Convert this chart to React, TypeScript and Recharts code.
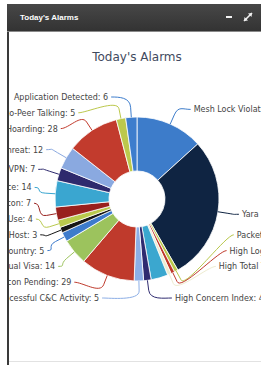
import React from 'react';
import { PieChart, Pie, Cell } from 'recharts';

const names = [
  'Mesh Lock Violation',
  'Yara Rule Match',
  'Packet Flood',
  'High Login Failures',
  'High Total Traffic',
  'High Risk Host',
  'High Concern Index',
  'Unsuccessful C&C Activity',
  'Beacon Pending',
  'Unusual Visa',
  'Traffic to Risky Country',
  'Rogue Host',
  'Tor Exit Use',
  'Malware Beacon 7',
  'Brute Force 14',
  'Rogue VPN',
  'Malware Threat',
  'Data Hoarding',
  'Peer-to-Peer Talking',
  'Application Detected',
];
const values = [36, 77, 2, 2, 2, 9, 4, 5, 29, 14, 5, 3, 4, 7, 14, 7, 12, 28, 5, 6];
const colors = [
  '#3d7cca', '#0f2442', '#b8c74a', '#c0392b', '#eeecd0', '#3ba7cf', '#2f2b70',
  '#8caee6', '#bf3a2c', '#9cc35d', '#3d7bcc', '#151515', '#b9c94d', '#98201d',
  '#3aa6d0', '#2e2a6d', '#8aa9e0', '#c23b2d', '#bcc84c', '#3d7dcd',
];
const hiddenLabels = ['High Risk Host'];

const labelText = (i: number) => {
  const n = names[i];
  if (n.endsWith(' 7') || n.endsWith(' 14')) {
    return n.replace(/ (\d+)$/, ': $1');
  }
  return `${n}: ${values[i]}`;
};

const W = 252;
const H = 331;
const CX = 128;
const CY = 167;
const OUTER = 82;
const INNER = 28;
const LABEL_DIST = 16;
const LABEL_R = 106;
const SPACING = 15.8;
const TOP = 65;
const BOTTOM = 266;

type Item = { i: number; mid: number; left: boolean; target: number };

function layoutLabels() {
  const total = values.reduce((a, b) => a + b, 0);
  let cum = 0;
  const items: Item[] = values.map((v, i) => {
    const mid = ((cum + v / 2) / total) * 360;
    cum += v;
    return {
      i,
      mid,
      left: mid >= 178,
      target: CY - (OUTER + LABEL_DIST) * Math.cos((mid * Math.PI) / 180),
    };
  });
  const ys: Record<number, { y: number; left: boolean }> = {};
  [true, false].forEach((side) => {
    const arr = items.filter((d) => d.left === side).sort((a, b) => a.target - b.target);
    let clusters = arr.map((d) => ({ items: [d], top: d.target }));
    const fit = (c: { items: Item[]; top: number }) => {
      const n = c.items.length;
      let t = c.items.reduce((s, d, j) => s + d.target - j * SPACING, 0) / n;
      if (t + (n - 1) * SPACING > BOTTOM) t = BOTTOM - (n - 1) * SPACING;
      if (t < TOP) t = TOP;
      c.top = t;
    };
    clusters.forEach(fit);
    let merged = true;
    while (merged) {
      merged = false;
      for (let k = 0; k < clusters.length - 1; k++) {
        const a = clusters[k];
        const b = clusters[k + 1];
        if (a.top + a.items.length * SPACING > b.top) {
          const c = { items: [...a.items, ...b.items], top: 0 };
          fit(c);
          clusters = [...clusters.slice(0, k), c, ...clusters.slice(k + 2)];
          merged = true;
          break;
        }
      }
    }
    clusters.forEach((c) =>
      c.items.forEach((d, j) => {
        ys[d.i] = { y: c.top + j * SPACING, left: side };
      })
    );
  });
  return ys;
}

const labelLayout = layoutLabels();

const RAD = Math.PI / 180;

const renderLabel = (props: any) => {
  const { cx, cy, midAngle, outerRadius, index } = props;
  if (hiddenLabels.includes(names[index])) return <g />;
  const lay = labelLayout[index];
  const y = lay.y;
  const left = lay.left;
  const dy = y - cy;
  const dx = Math.sqrt(Math.max(0, LABEL_R * LABEL_R - dy * dy));
  const ax = left ? cx - dx : cx + dx;
  const sx = left ? ax + 3 : ax - 3;
  const cos = Math.cos(-midAngle * RAD);
  const sin = Math.sin(-midAngle * RAD);
  const ex = cx + outerRadius * cos;
  const ey = cy + outerRadius * sin;
  const bx = cx + (outerRadius + 10) * cos;
  const by = cy + (outerRadius + 10) * sin;
  const c1x = left ? sx + 8 : sx - 8;
  const c2x = 2 * bx - ex;
  const c2y = 2 * by - ey;
  const d = `M${sx},${y} C${c1x},${y} ${c2x},${c2y} ${bx},${by} L${ex},${ey}`;
  return (
    <g>
      <path d={d} fill="none" stroke={colors[index]} strokeWidth={1} />
      <text
        x={ax}
        y={y + 3}
        textAnchor={left ? 'end' : 'start'}
        fontSize={8}
        fontFamily="DejaVu Sans, sans-serif"
        fill="#444"
      >
        {labelText(index)}
      </text>
    </g>
  );
};

const data = values.map((v, i) => ({ name: names[i], value: v }));

export default function App() {
  return (
    <div
      style={{
        position: 'absolute',
        left: 0,
        top: 0,
        width: 261,
        height: 365,
        background: '#fff',
        overflow: 'hidden',
        fontFamily: 'DejaVu Sans, sans-serif',
      }}
    >
      <div
        style={{
          position: 'absolute',
          left: 7,
          top: 4,
          width: 2,
          height: 361,
          background: '#3a3a3a',
        }}
      />
      <div
        style={{
          position: 'absolute',
          left: 7,
          top: 4,
          width: 254,
          height: 27,
          background: 'linear-gradient(#474747, #333333)',
          borderBottom: '1px solid #8a8a8a',
        }}
      >
        <div
          style={{
            position: 'absolute',
            left: 13,
            top: 9,
            color: '#fff',
            fontSize: 8,
            fontWeight: 'bold',
            fontFamily: 'Liberation Sans, sans-serif',
            lineHeight: '10px',
            whiteSpace: 'nowrap',
          }}
        >
          Today's Alarms
        </div>
        <div
          style={{
            position: 'absolute',
            left: 219,
            top: 12,
            width: 6,
            height: 2,
            background: '#f2f2f2',
          }}
        />
        <svg
          style={{ position: 'absolute', left: 234, top: 6, width: 14, height: 14 }}
          viewBox="0 0 14 14"
        >
          <line x1="3" y1="11" x2="11" y2="3" stroke="#f2f2f2" strokeWidth="1.6" />
          <polygon points="11,3 7,3.5 10.5,7" fill="#f2f2f2" />
          <polygon points="3,11 7,10.5 3.5,7" fill="#f2f2f2" />
        </svg>
      </div>
      <div
        style={{
          position: 'absolute',
          left: 9,
          top: 361,
          width: 252,
          height: 1,
          background: '#e2e2e2',
        }}
      />
      <div
        style={{
          position: 'absolute',
          left: 9,
          top: 50,
          width: 256,
          textAlign: 'center',
          fontSize: 12,
          lineHeight: '14px',
          color: '#3f4a5e',
          fontFamily: 'DejaVu Sans, sans-serif',
        }}
      >
        Today's Alarms
      </div>
      <div
        style={{
          position: 'absolute',
          left: 9,
          top: 32,
          width: W,
          height: H,
          overflow: 'hidden',
        }}
      >
        <PieChart width={W} height={H} margin={{ top: 0, right: 0, bottom: 0, left: 0 }}>
          <Pie
            data={data}
            dataKey="value"
            nameKey="name"
            cx={CX}
            cy={CY}
            innerRadius={INNER}
            outerRadius={OUTER}
            startAngle={90}
            endAngle={-270}
            stroke="#ffffff"
            strokeWidth={0.8}
            label={renderLabel}
            labelLine={false}
            isAnimationActive={false}
          >
            {data.map((d, i) => (
              <Cell key={d.name} fill={colors[i]} />
            ))}
          </Pie>
        </PieChart>
      </div>
    </div>
  );
}
